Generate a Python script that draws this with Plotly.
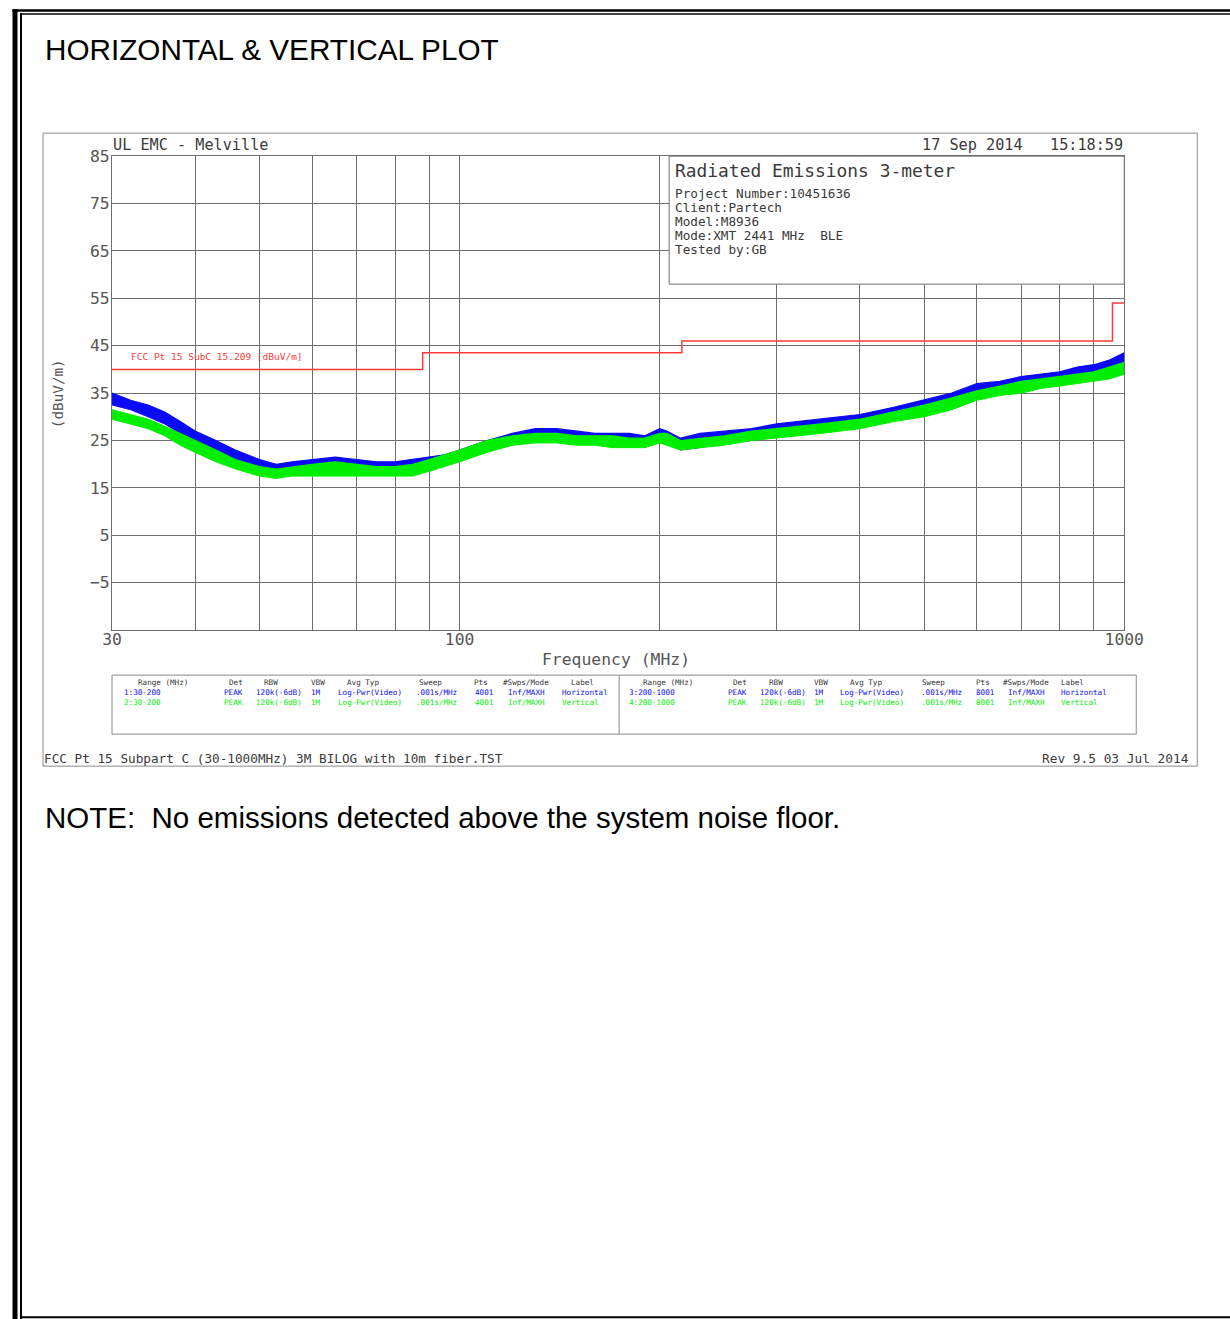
import plotly.graph_objects as go

# ---------------- data ----------------
# Measurement frequencies (MHz) at which the trace envelopes were taken
freq_mhz = [30, 32, 34, 36, 38, 40, 43, 46, 50, 53, 56, 60, 65, 70, 75, 80, 85, 90, 95,
            100, 110, 120, 130, 140, 150, 160, 170, 180, 190, 200, 205, 215, 230, 250,
            275, 300, 350, 400, 450, 500, 550, 600, 650, 700, 750, 800, 850, 900, 950, 1000]

# Horizontal polarisation (peak, max hold) - upper / lower edge of the noise band, dBuV/m
horiz_hi = [35.0, 33.5, 32.5, 31.0, 29.0, 27.0, 25.0, 23.0, 21.0, 20.0, 20.5, 21.0, 21.5, 21.0,
            20.5, 20.5, 21.0, 21.5, 22.0, 23.0, 25.0, 26.5, 27.5, 27.5, 27.0, 26.5, 26.5, 26.5,
            26.0, 27.5, 27.0, 25.5, 26.5, 27.0, 27.5, 28.5, 29.5, 30.5, 32.0, 33.5, 35.0, 37.0,
            37.5, 38.5, 39.0, 39.5, 40.5, 41.0, 42.0, 43.5]
horiz_lo = [32.5, 31.5, 30.0, 28.5, 26.5, 24.8, 22.5, 20.5, 19.0, 18.5, 18.5, 18.8, 18.8, 18.5,
            18.5, 18.5, 18.5, 19.0, 20.0, 21.0, 23.0, 24.5, 25.0, 25.0, 25.0, 24.5, 24.5, 24.0,
            24.0, 25.0, 24.5, 23.0, 23.5, 24.5, 25.0, 26.0, 27.5, 28.5, 29.5, 31.0, 32.5, 34.5,
            35.5, 36.0, 37.0, 37.5, 38.0, 39.0, 39.5, 41.0]

# Vertical polarisation (peak, max hold) - upper / lower edge of the noise band, dBuV/m
vert_hi = [31.5, 30.5, 29.5, 28.0, 26.5, 25.0, 23.0, 21.0, 19.5, 19.0, 19.5, 20.0, 20.5, 20.0,
           19.5, 19.5, 20.0, 21.0, 22.0, 23.0, 25.0, 26.0, 26.5, 26.5, 26.0, 26.0, 26.0, 25.5,
           25.5, 26.5, 26.5, 25.0, 25.5, 26.0, 27.0, 27.5, 28.5, 29.5, 31.0, 32.5, 34.0, 35.5,
           36.5, 37.5, 38.0, 38.5, 39.0, 39.5, 40.5, 41.5]
vert_lo = [29.5, 28.5, 27.5, 26.0, 24.0, 22.5, 20.5, 19.0, 17.5, 17.0, 17.5, 17.5, 17.5, 17.5,
           17.5, 17.5, 17.5, 18.5, 19.5, 20.5, 22.5, 24.0, 24.5, 24.5, 24.0, 24.0, 23.5, 23.5,
           23.5, 24.5, 24.0, 23.0, 23.5, 24.0, 25.0, 25.5, 26.5, 27.5, 29.0, 30.0, 31.5, 33.5,
           34.5, 35.0, 36.0, 36.5, 37.0, 37.5, 38.0, 39.0]

# FCC Part 15.209 limit (3 m), stepped
limit_freq = [30, 88, 88, 216, 216, 960, 960, 1000]
limit_level = [40, 40, 43.5, 43.5, 46, 46, 54, 54]

# Axis ticks
x_grid = [30, 40, 50, 60, 70, 80, 90, 100, 200, 300, 400, 500, 600, 700, 800, 900, 1000]
x_labels = ["30", "", "", "", "", "", "", "100", "", "", "", "", "", "", "", "", "1000"]
y_grid = [-15, -5, 5, 15, 25, 35, 45, 55, 65, 75, 85]
y_labels = ["", "\u22125", "5", "15", "25", "35", "45", "55", "65", "75", "85"]

# Header / info texts
site_text = "UL EMC - Melville"
stamp_text = "17 Sep 2014   15:18:59"
info_title = "Radiated Emissions 3-meter"
info_lines = ["Project Number:10451636", "Client:Partech", "Model:M8936",
              "Mode:XMT 2441 MHz  BLE", "Tested by:GB"]
limit_name = "FCC Pt 15 SubC 15.209 [dBuV/m]"
footer_left = "FCC Pt 15 Subpart C (30-1000MHz) 3M BILOG with 10m fiber.TST"
footer_right = "Rev 9.5 03 Jul 2014"
page_title = "HORIZONTAL & VERTICAL PLOT"
page_note = "NOTE:  No emissions detected above the system noise floor."

# Sweep settings table
table_header = ["Range (MHz)", "Det", "RBW", "VBW", "Avg Typ", "Sweep", "Pts", "#Swps/Mode", "Label"]
table_rows_left = [
    ["1:30-200", "PEAK", "120k(-6dB)", "1M", "Log-Pwr(Video)", ".001s/MHz", "4001", "Inf/MAXH", "Horizontal"],
    ["2:30-200", "PEAK", "120k(-6dB)", "1M", "Log-Pwr(Video)", ".001s/MHz", "4001", "Inf/MAXH", "Vertical"],
]
table_rows_right = [
    ["3:200-1000", "PEAK", "120k(-6dB)", "1M", "Log-Pwr(Video)", ".001s/MHz", "8001", "Inf/MAXH", "Horizontal"],
    ["4:200-1000", "PEAK", "120k(-6dB)", "1M", "Log-Pwr(Video)", ".001s/MHz", "8001", "Inf/MAXH", "Vertical"],
]

# ---------------- layout helpers ----------------
# Positions below are page pixels; they are converted to the figure's paper
# fractions using the page offset/scale of the displayed figure.
W, H = 1251, 1320
OX, SX = 10.0, 0.9758
OY, SY = 8.85, 0.9932
MONO = "DejaVu Sans Mono"
GRID = "#6e6e6e"
BLUE = "#0a0af5"
GREEN = "#00ee00"
RED = "#ff3a3a"


def px(x):
    return (x - OX) / SX / W


def py(y):
    return 1 - (y - OY) / SY / H


fig = go.Figure()

# Noise bands: lower edge, then upper edge filled down to it
for lo, hi, col in [(horiz_lo, horiz_hi, BLUE), (vert_lo, vert_hi, GREEN)]:
    fig.add_trace(go.Scatter(x=freq_mhz, y=lo, mode="lines",
                             line=dict(color=col, width=1), hoverinfo="skip"))
    fig.add_trace(go.Scatter(x=freq_mhz, y=hi, mode="lines", fill="tonexty",
                             fillcolor=col, line=dict(color=col, width=1.2),
                             hoverinfo="skip"))

# Limit line
fig.add_trace(go.Scatter(x=limit_freq, y=limit_level, mode="lines",
                         line=dict(color=RED, width=1.5), hoverinfo="skip"))

PLOT_L, PLOT_R, PLOT_T, PLOT_B = 112, 1124, 156, 630
TICK_FONT = dict(family=MONO, size=16.4, color="#555555")

fig.update_layout(
    width=W, height=H, autosize=False,
    margin=dict(l=0, r=0, t=0, b=0),
    paper_bgcolor="white", plot_bgcolor="white",
    showlegend=False,
    xaxis=dict(type="log", range=[1.4771213, 3.0],
               domain=[px(PLOT_L), px(PLOT_R)],
               tickvals=x_grid, ticktext=x_labels,
               showgrid=True, gridcolor=GRID, gridwidth=1,
               showline=True, linecolor=GRID, linewidth=1, mirror=True,
               ticks="", zeroline=False, ticklabelstandoff=-6,
               tickfont=TICK_FONT),
    yaxis=dict(range=[-15, 85],
               domain=[py(PLOT_B), py(PLOT_T)],
               tickvals=y_grid, ticktext=y_labels,
               showgrid=True, gridcolor=GRID, gridwidth=1,
               showline=True, linecolor=GRID, linewidth=1, mirror=True,
               ticks="", zeroline=False, ticklabelstandoff=-2,
               tickfont=TICK_FONT),
)

shapes = []


def rect(x0, y0, x1, y1, color, width=1, fill=None, layer="above"):
    shapes.append(dict(type="rect", xref="paper", yref="paper",
                       x0=px(x0), x1=px(x1), y0=py(y1), y1=py(y0),
                       line=dict(color=color, width=width),
                       fillcolor=fill if fill else "rgba(0,0,0,0)", layer=layer))


def filled(x0, y0, x1, y1, color):
    shapes.append(dict(type="rect", xref="paper", yref="paper",
                       x0=px(x0), x1=px(x1), y0=py(y1), y1=py(y0),
                       line=dict(width=0), fillcolor=color, layer="above"))


# Page border: heavy outer rule plus thin inner rule
filled(12.5, 9, 1232, 11.5, "black")
filled(12.5, 9, 17.5, 1322, "black")
filled(20, 13, 1232, 14.5, "black")
filled(20, 13, 22, 1322, "black")
filled(20, 1316, 1232, 1318, "black")

# Chart frame, info box, settings table
rect(43, 133, 1197, 766, "#8a8a8a", 1)
rect(669, PLOT_T, PLOT_R, 284, GRID, 1, fill="white")
rect(112, 675, 1136, 734, "#8a8a8a", 1)
shapes.append(dict(type="line", xref="paper", yref="paper",
                   x0=px(619), x1=px(619), y0=py(675), y1=py(734),
                   line=dict(color="#8a8a8a", width=1), layer="above"))
fig.update_layout(shapes=shapes)

ann = []


def text(x, y, s, size, color="#333333", family=MONO, xanchor="left", angle=0):
    ann.append(dict(x=px(x), y=py(y), xref="paper", yref="paper", text=s,
                    showarrow=False, xanchor=xanchor, yanchor="middle",
                    textangle=angle,
                    font=dict(family=family, size=size, color=color)))


text(43, 49, page_title, 29.7, "black", "Liberation Sans")
text(43, 817, page_note, 29.5, "black", "Liberation Sans")

text(111, 145, site_text, 15.2, "#3a3a3a")
text(1125, 145, stamp_text, 15.2, "#3a3a3a", xanchor="right")
text(673, 170, info_title, 17.9, "#3a3a3a")
for i, line in enumerate(info_lines):
    text(673, 193 + 14 * i, line, 12.7, "#3a3a3a")
text(129, 356, limit_name, 9.5, RED)
text(58, 394, "(dBuV/m)", 14.3, "#555555", angle=-90, xanchor="center")
text(616, 659, "Frequency (MHz)", 16.4, "#555555", xanchor="center")
text(42, 758, footer_left, 12.7, "#3a3a3a")
text(1191, 758, footer_right, 12.8, "#3a3a3a", xanchor="right")

# Settings table columns (left edges of header and value cells)
hdr_x_left = [137, 228, 263, 310, 346, 418, 473, 502, 570]
row_x_left = [123, 223, 255, 310, 337, 415, 474, 507, 561]
hdr_x_right = [642, 732, 768, 813, 849, 921, 975, 1002, 1060]
row_x_right = [628, 727, 759, 813, 839, 920, 975, 1007, 1060]
row_colors = [BLUE, GREEN]
for hx, rx, rows in [(hdr_x_left, row_x_left, table_rows_left),
                     (hdr_x_right, row_x_right, table_rows_right)]:
    for x, h in zip(hx, table_header):
        text(x - 1, 682, h, 7.6, "#333333")
    for r, row in enumerate(rows):
        for x, v in zip(rx, row):
            text(x - 1, 692 + 10 * r, v, 7.6, row_colors[r])

fig.update_layout(annotations=ann)

fig.write_html("out.html")
